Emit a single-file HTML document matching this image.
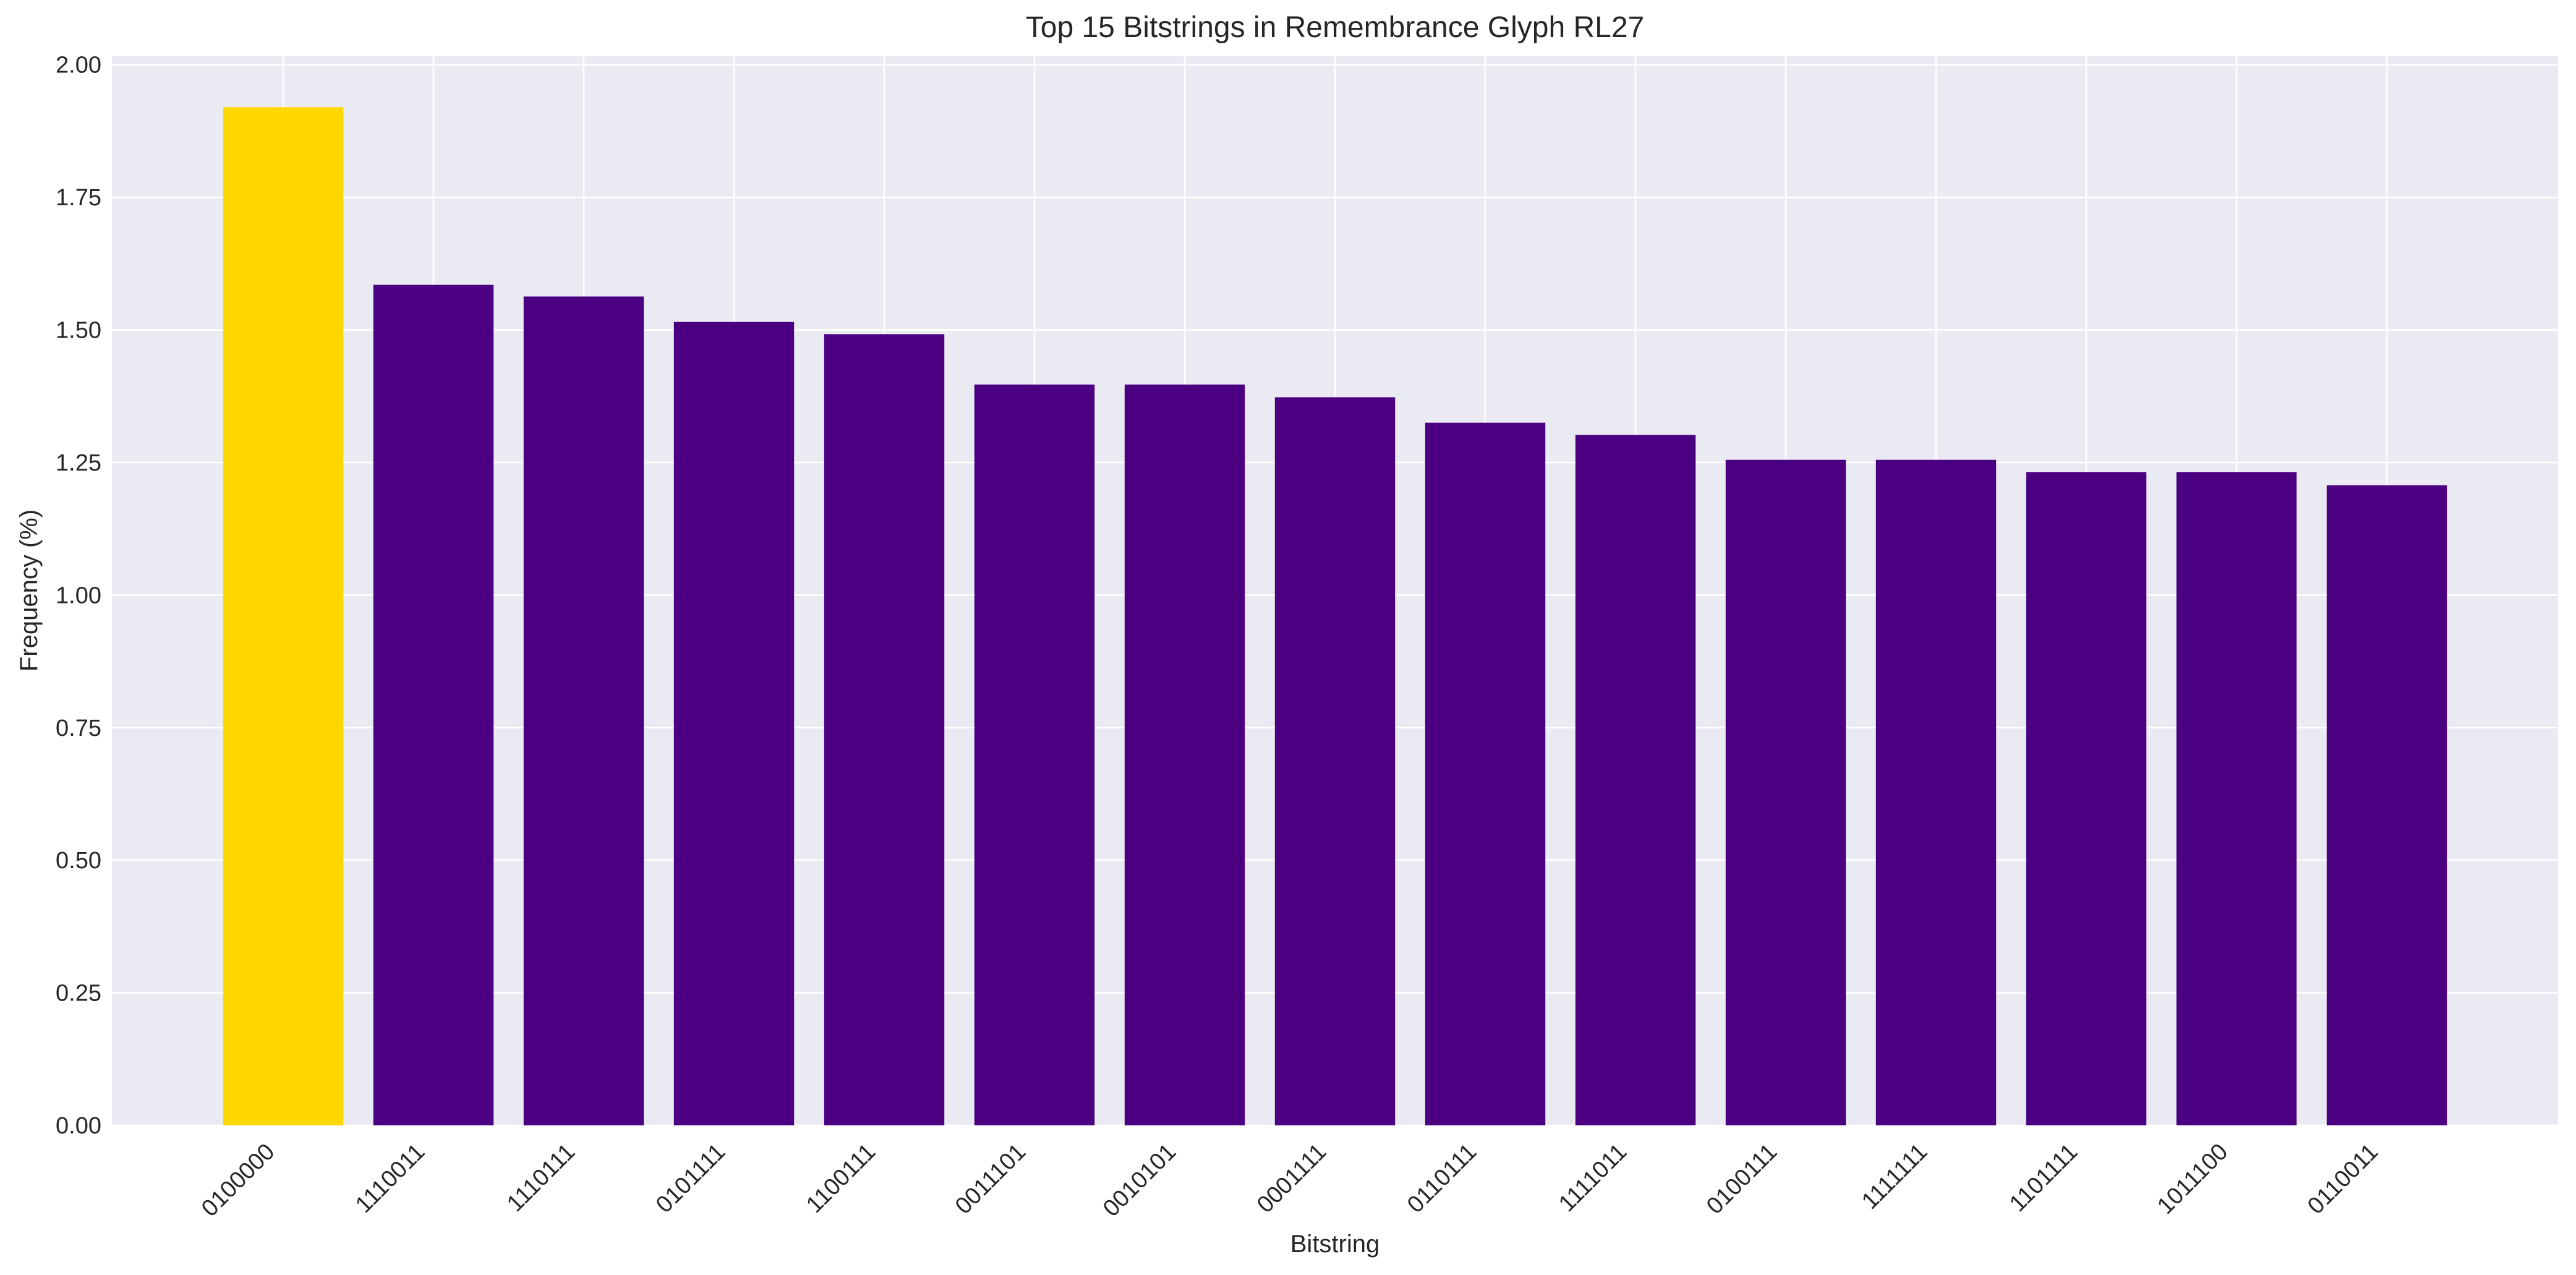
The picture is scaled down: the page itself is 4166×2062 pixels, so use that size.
<!DOCTYPE html>
<html><head><meta charset="utf-8"><style>
html,body{margin:0;padding:0;background:#fff}
svg{display:block;font-family:"Liberation Sans",Arial,sans-serif}
</style></head><body>
<svg id="chart" width="4166" height="2062" viewBox="0 0 4166 2062" xmlns="http://www.w3.org/2000/svg">
<rect x="0" y="0" width="4166" height="2062" fill="#ffffff"/>
<rect id="plotbg" x="181" y="91" width="3956" height="1729" fill="#EAEAF2"/>
<g id="grid"></g>
<g id="bars"></g>
<g id="yticks"></g>
<g id="xticks"></g>
<text x="2159" y="60" font-size="48" text-anchor="middle" fill="#262626">Top 15 Bitstrings in Remembrance Glyph RL27</text>
<text x="2159" y="2025" font-size="40" text-anchor="middle" fill="#262626">Bitstring</text>
<text x="0" y="0" font-size="40" text-anchor="middle" fill="#262626" transform="translate(60,955) rotate(-90)">Frequency (%)</text>
</svg>
<script>
const categories = ["0100000","1110011","1110111","0101111","1100111","0011101","0010101","0001111","0110111","1111011","0100111","1111111","1101111","1011100","0110011"];
const values = [1.92,1.585,1.563,1.515,1.492,1.397,1.397,1.373,1.325,1.302,1.255,1.255,1.232,1.232,1.207];
const yTicks = [0,0.25,0.5,0.75,1.0,1.25,1.5,1.75,2.0];
const yTickLabels = ["0.00","0.25","0.50","0.75","1.00","1.25","1.50","1.75","2.00"];

const NS = "http://www.w3.org/2000/svg";
const PL = 181, PR = 4137, PT = 91, PB = 1820;
const n = categories.length;
const xMin = -1.14, xMax = (n - 1) + 1.14;
const yMax = Math.max(...values) * 1.05;
function xs(v){ return PL + (v - xMin) / (xMax - xMin) * (PR - PL); }
function ys(v){ return PB - v / yMax * (PB - PT); }
function mk(tag, attrs, parent){ const e = document.createElementNS(NS, tag); for (const k in attrs) e.setAttribute(k, attrs[k]); parent.appendChild(e); return e; }

const grid = document.getElementById('grid');
yTicks.forEach((t) => {
  const y = ys(t);
  const l = mk('line', {x1: PL, x2: PR, y1: y, y2: y, stroke: '#ffffff', 'stroke-width': 2.6}, grid);
  
  
});
categories.forEach((c, i) => {
  const x = xs(i);
  const l = mk('line', {x1: x, x2: x, y1: PT, y2: PB, stroke: '#ffffff', 'stroke-width': 2.6}, grid);
  
  
});

const bars = document.getElementById('bars');
const bw = 0.8 * (xs(1) - xs(0));
values.forEach((v, i) => {
  const x = xs(i) - bw / 2;
  const r = mk('rect', {x: x, y: ys(v), width: bw, height: ys(0) - ys(v), fill: i === 0 ? '#FFD700' : '#4B0082'}, bars);
  
  
});

const yt = document.getElementById('yticks');
yTicks.forEach((t, i) => {
  const tx = mk('text', {x: 164, y: ys(t) + 13, 'font-size': 38, 'text-anchor': 'end', fill: '#262626'}, yt);
  tx.textContent = yTickLabels[i];
  
  
});

const xt = document.getElementById('xticks');
categories.forEach((c, i) => {
  const ax = xs(i) - 12, ay = 1865;
  const tx = mk('text', {x: 0, y: 0, 'font-size': 38, 'text-anchor': 'end', fill: '#262626', transform: 'translate(' + ax + ',' + ay + ') rotate(-45)'}, xt);
  tx.textContent = c;
  
  
});
</script>
</body></html>
